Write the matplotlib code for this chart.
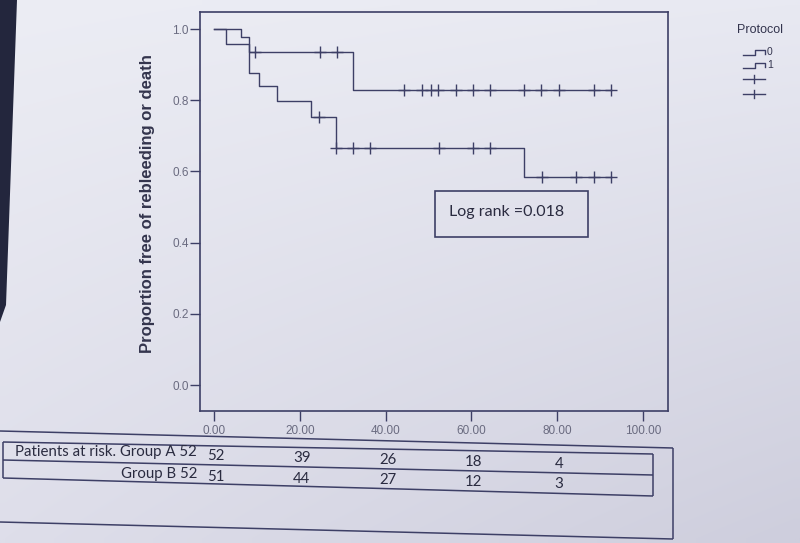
import numpy as np
import matplotlib.pyplot as plt
from matplotlib.patches import Rectangle, Polygon

# === 값 ===
# Protocol 0 (위쪽 곡선)
time_p0 = [0.0, 6.4, 8.1, 32.5, 92.6]
surv_p0 = [1.0, 0.978, 0.936, 0.828, 0.828]
cens_t_p0 = [9.5, 24.6, 28.6, 44.4, 48.4, 50.5, 52.3, 56.4, 60.4, 64.3, 72.2, 76.3, 80.5, 88.6, 92.6]
cens_s_p0 = [0.936, 0.936, 0.936, 0.828, 0.828, 0.828, 0.828, 0.828, 0.828, 0.828, 0.828, 0.828, 0.828, 0.828, 0.828]

# Protocol 1 (아래쪽 곡선)
time_p1 = [0.0, 2.8, 8.1, 10.4, 14.7, 22.5, 28.5, 72.3, 92.6]
surv_p1 = [1.0, 0.959, 0.876, 0.840, 0.797, 0.753, 0.667, 0.583, 0.583]
cens_t_p1 = [24.4, 28.5, 32.5, 36.4, 52.4, 60.4, 64.3, 76.4, 84.4, 88.5, 92.6]
cens_s_p1 = [0.753, 0.667, 0.667, 0.667, 0.667, 0.667, 0.667, 0.583, 0.583, 0.583, 0.583]

x_ticks = [0, 20, 40, 60, 80, 100]
y_ticks = [0.0, 0.2, 0.4, 0.6, 0.8, 1.0]

risk_times = [0, 20, 40, 60, 80]
risk_a = [52, 39, 26, 18, 4]
risk_b = [51, 44, 27, 12, 3]
risk_label_a = 'Patients at risk. Group A 52'
risk_label_b = 'Group B 52'

legend_title = 'Protocol'
legend_labels = ['0', '1']
log_rank_text = 'Log rank =0.018'

# === 스타일 ===
W, H = 800, 543
line_c = '#3d3f66'
text_c = '#33344d'
tick_c = '#6a6b80'
axis_font = 'Liberation Sans'
table_font = 'Lato'

fig = plt.figure(figsize=(W / 100, H / 100), dpi=100)

# 배경 (사진 느낌의 그라데이션)
bg = fig.add_axes([0, 0, 1, 1], zorder=0)
bg.set_xlim(0, W)
bg.set_ylim(H, 0)
bg.axis('off')
tl = np.array([236, 237, 244]); tr = np.array([232, 233, 242])
bl = np.array([222, 222, 234]); br = np.array([206, 206, 221])
u = np.linspace(0, 1, 80)[None, :, None]
v = np.linspace(0, 1, 60)[:, None, None]
grad = (tl * (1 - u) * (1 - v) + tr * u * (1 - v) + bl * (1 - u) * v + br * u * v) / 255
bg.imshow(grad, extent=[0, W, H, 0], aspect='auto', interpolation='bilinear')
bg.add_patch(Polygon([[0, 0], [17, 0], [6, 305], [0, 322]], closed=True, color='#23263d', lw=0))

# === 메인 축 ===
left_px, right_px, top_px, bot_px = 200, 668, 12, 411
ax = fig.add_axes([left_px / W, 1 - bot_px / H, (right_px - left_px) / W, (bot_px - top_px) / H], zorder=2)
ax.set_facecolor('none')

# t=0 -> x=214, t=100 -> x=643 / y: 0 -> 385, 1 -> 29
ppx = (643 - 214) / 100
ax.set_xlim(-(214 - left_px) / ppx, 100 + (right_px - 643) / ppx)
ppy = 385 - 29
ax.set_ylim(-(bot_px - 385) / ppy, 1 + (29 - top_px) / ppy)

ax.step(time_p0, surv_p0, where='post', color=line_c, lw=1.0)
ax.step(time_p1, surv_p1, where='post', color=line_c, lw=1.0)
ax.plot(cens_t_p0, cens_s_p0, ls='none', marker='+', ms=8, mew=1.0, color=line_c)
ax.plot(cens_t_p1, cens_s_p1, ls='none', marker='+', ms=8, mew=1.0, color=line_c)

ax.set_xticks(x_ticks)
ax.set_xticklabels([f'{t:.2f}' for t in x_ticks])
ax.set_yticks(y_ticks)
ax.set_yticklabels([f'{t:.1f}' for t in y_ticks])
ax.tick_params(direction='out', length=7, width=1.0, color=line_c, labelcolor=tick_c, pad=1)
for lab in ax.get_xticklabels() + ax.get_yticklabels():
    lab.set_fontfamily(axis_font)
    lab.set_fontsize(8.5)
ax.tick_params(axis='x', pad=3)
for sp in ax.spines.values():
    sp.set_color(line_c)
    sp.set_linewidth(1.2)

ax.set_ylabel('Proportion free of rebleeding or death', fontfamily=axis_font,
              fontweight='bold', fontsize=12, color=text_c)
ax.yaxis.set_label_coords((155 - left_px) / (right_px - left_px), (bot_px - 204) / (bot_px - top_px))

# === 겹쳐 그리는 층 (범례, 상자, 표) ===
ov = fig.add_axes([0, 0, 1, 1], zorder=3)
ov.set_xlim(0, W)
ov.set_ylim(H, 0)
ov.axis('off')

# Log rank 상자
ov.add_patch(Rectangle((435, 191), 153, 46, fill=False, ec=line_c, lw=1.2))
ov.text(449, 212, log_rank_text, ha='left', va='center',
        fontfamily=table_font, fontsize=11.5, color='#2a2b40')

# 범례
ov.text(760, 30, legend_title, ha='center', va='center', fontfamily=axis_font,
        fontsize=9, color=text_c)
for i, lab in enumerate(legend_labels):
    y0 = 55 + i * 13
    ov.plot([743, 755, 755, 765, 765], [y0, y0, y0 - 5, y0 - 5, y0 - 1], color=line_c, lw=1.0)
    ov.text(767, y0 - 3, lab, ha='left', va='center', fontfamily=axis_font, fontsize=7.5, color=text_c)
for i in range(2):
    y0 = 79 + i * 15
    ov.plot([743, 765], [y0, y0], color=line_c, lw=1.0)
    ov.plot([754, 754], [y0 - 4, y0 + 4], color=line_c, lw=1.0)

# 위험 환자 표
def slope_line(x1, y1, x2, y2):
    ov.plot([x1, x2], [y1, y2], color=line_c, lw=1.1, solid_capstyle='butt')

slope_line(0, 431, 673, 448)    # 바깥 위
slope_line(673, 448, 673, 539)  # 바깥 오른쪽
slope_line(0, 522, 673, 539)    # 바깥 아래
slope_line(3, 442, 653, 454)    # 안쪽 위
slope_line(3, 460, 653, 475)    # 행 구분
slope_line(3, 478, 653, 496)    # 안쪽 아래
slope_line(3, 442, 3, 478)
slope_line(653, 454, 653, 496)

def row_y(px, y_left, slope):
    return y_left + slope * px

ov.text(197, row_y(197, 448, 0.021), risk_label_a, ha='right', va='center',
        fontfamily=table_font, fontsize=10.8, color='#2a2b40')
ov.text(197, row_y(197, 470, 0.022), risk_label_b, ha='right', va='center',
        fontfamily=table_font, fontsize=10.8, color='#2a2b40')
for t, a, b in zip(risk_times, risk_a, risk_b):
    px = ax.transData.transform((t, 0))[0]
    ov.text(px + 2, row_y(px, 452, 0.021), str(a), ha='center', va='center',
            fontfamily=table_font, fontsize=10.8, color='#2a2b40')
    ov.text(px + 2, row_y(px, 472, 0.022), str(b), ha='center', va='center',
            fontfamily=table_font, fontsize=10.8, color='#2a2b40')

fig.savefig('out.png', dpi=100)
